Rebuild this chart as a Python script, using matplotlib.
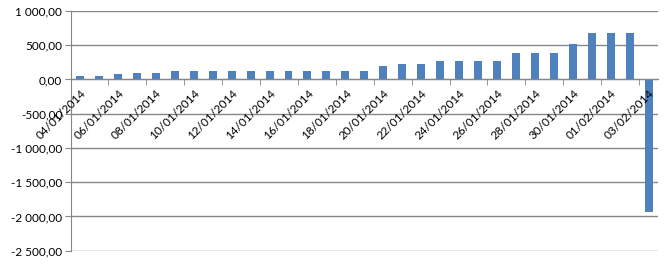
import matplotlib
matplotlib.use("Agg")
import matplotlib.pyplot as plt
from matplotlib.ticker import FuncFormatter, FixedLocator
import numpy as np

# daily values, 04/01/2014 .. 03/02/2014
dates = ["04/01/2014", "05/01/2014", "06/01/2014", "07/01/2014", "08/01/2014",
         "09/01/2014", "10/01/2014", "11/01/2014", "12/01/2014", "13/01/2014",
         "14/01/2014", "15/01/2014", "16/01/2014", "17/01/2014", "18/01/2014",
         "19/01/2014", "20/01/2014", "21/01/2014", "22/01/2014", "23/01/2014",
         "24/01/2014", "25/01/2014", "26/01/2014", "27/01/2014", "28/01/2014",
         "29/01/2014", "30/01/2014", "31/01/2014", "01/02/2014", "02/02/2014",
         "03/02/2014"]
values = [45, 45, 73, 92, 90,
          130, 130, 130, 130, 130,
          130, 130, 130, 130, 130,
          130, 190, 222, 222, 276,
          276, 276, 276, 382, 382,
          382, 524, 684, 684, 684,
          -1930]
y_ticks = [-2500, -2000, -1500, -1000, -500, 0, 500, 1000]

plt.rcParams['font.family'] = ['Lato', 'DejaVu Sans']

fig = plt.figure(figsize=(6.66, 2.64), dpi=100)
ax = fig.add_axes([0.106, 0.0504, 0.882, 0.908])
ax.set_axisbelow(False)  # tick labels above the bars, like Excel

grid_col = "#868686"
for yt in y_ticks:
    ax.axhline(yt, color=grid_col, linewidth=1.0, zorder=1)

x = np.arange(len(values))
ax.bar(x, values, width=0.42, color="#4F81BD", zorder=2)

ax.set_ylim(-2500, 1000)
ax.set_xlim(-0.5, len(values) - 0.5)
ax.set_yticks(y_ticks)
ax.yaxis.set_major_formatter(FuncFormatter(
    lambda v, p: f"{v:,.2f}".replace(",", " ").replace(".", ",")))
ax.tick_params(axis="y", length=4, color=grid_col, labelsize=8.5, pad=2)

# x axis sits on the zero line
ax.spines["bottom"].set_position(("data", 0))
ax.spines["bottom"].set_color(grid_col)
ax.spines["left"].set_color(grid_col)
ax.spines["top"].set_visible(False)
ax.spines["right"].set_visible(False)

ax.xaxis.set_major_locator(FixedLocator(x[::2]))
ax.set_xticklabels(dates[::2])
ax.xaxis.set_minor_locator(FixedLocator(np.arange(-0.5, len(values), 2)))
ax.tick_params(axis="x", which="major", length=0, labelsize=8.5, pad=6)
ax.tick_params(axis="x", which="minor", length=4, color=grid_col, direction="out")
for lbl in ax.get_xticklabels():
    lbl.set_rotation(45)
    lbl.set_ha("right")
    lbl.set_va("top")
    lbl.set_rotation_mode("anchor")

fig.savefig("out.png", dpi=100)
